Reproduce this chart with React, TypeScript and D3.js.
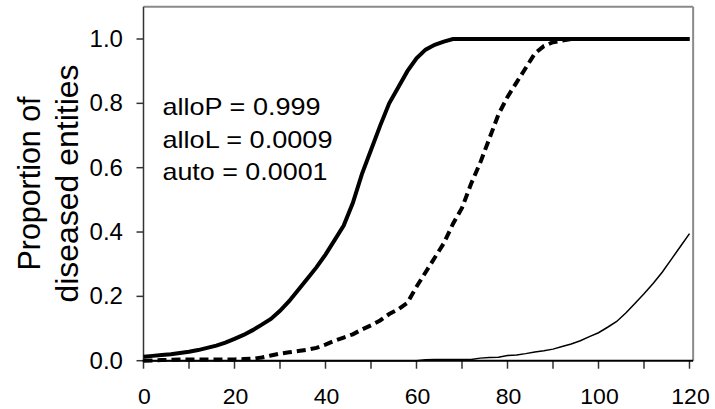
import React from "react";
import * as d3 from "d3";

const days = [0, 2, 4, 6, 8, 10, 12, 14, 16, 18, 20, 22, 24, 26, 28, 30, 32, 34, 36, 38, 40, 42, 44, 46, 48, 50, 52, 54, 56, 58, 60, 62, 64, 66, 68, 70, 72, 74, 76, 78, 80, 82, 84, 86, 88, 90, 92, 94, 96, 98, 100, 102, 104, 106, 108, 110, 112, 114, 116, 118, 120];

const alloPSeries = [0.012, 0.015, 0.018, 0.02, 0.024, 0.028, 0.033, 0.04, 0.047, 0.056, 0.068, 0.08, 0.095, 0.112, 0.13, 0.155, 0.185, 0.22, 0.255, 0.29, 0.33, 0.375, 0.42, 0.49, 0.58, 0.655, 0.73, 0.8, 0.85, 0.9, 0.94, 0.967, 0.982, 0.992, 1, 1, 1, 1, 1, 1, 1, 1, 1, 1, 1, 1, 1, 1, 1, 1, 1, 1, 1, 1, 1, 1, 1, 1, 1, 1, 1];

const alloLSeries = [0, 0.001, 0.002, 0.003, 0.004, 0.004, 0.004, 0.004, 0.004, 0.004, 0.004, 0.005, 0.006, 0.01, 0.016, 0.022, 0.026, 0.03, 0.034, 0.04, 0.05, 0.062, 0.072, 0.082, 0.097, 0.11, 0.125, 0.145, 0.16, 0.18, 0.23, 0.275, 0.32, 0.365, 0.425, 0.475, 0.55, 0.615, 0.69, 0.765, 0.82, 0.865, 0.91, 0.955, 0.978, 0.99, 0.995, 1, 1, 1, 1, 1, 1, 1, 1, 1, 1, 1, 1, 1, 1];

const autoSeries = [0, 0, 0, 0, 0, 0, 0, 0, 0, 0, 0, 0, 0, 0, 0, 0, 0, 0, 0, 0, 0, 0, 0, 0, 0, 0, 0, 0, 0, 0, 0, 0.003, 0.004, 0.004, 0.004, 0.004, 0.004, 0.008, 0.01, 0.011, 0.016, 0.018, 0.022, 0.027, 0.031, 0.036, 0.044, 0.052, 0.062, 0.075, 0.087, 0.104, 0.122, 0.148, 0.178, 0.208, 0.24, 0.275, 0.315, 0.355, 0.395];

const xTickLabels = [0, 20, 40, 60, 80, 100, 120];
const xMinorTicks = [0, 10, 20, 30, 40, 50, 60, 70, 80, 90, 100, 110, 120];
const yTickLabels = [0, 0.2, 0.4, 0.6, 0.8, 1.0];
const legendLines = ["alloP = 0.999", "alloL = 0.0009", "auto = 0.0001"];
const yTitleLines = ["Proportion of", "diseased entities"];

const W = 715;
const H = 409;
const FONT = "'Liberation Sans', Arial, sans-serif";
const legendWidths = [158, 170, 165];

export default function App() {
  const x = d3.scaleLinear().domain([0, 120]).range([143.5, 689.5]);
  const y = d3.scaleLinear().domain([0, 1]).range([360.7, 39]);
  const xRight = x(120.8);
  const yTop = y(1.1);
  const yBottom = y(0);
  const xLeft = x(0);

  const line = (vals: number[]) =>
    d3
      .line<number>()
      .x((_, i) => x(days[i]))
      .y((v) => y(v))(vals) || "";

  return (
    <svg
      width={W}
      height={H}
      style={{ position: "absolute", left: 0, top: 0, background: "#fff" }}
      fontFamily={FONT}
    >
      <rect x={0} y={0} width={W} height={H} fill="#fff" />
      {/* frame top & right */}
      <line x1={xLeft} x2={xRight} y1={yTop} y2={yTop} stroke="#8a8a8a" strokeWidth={2} />
      <line x1={xRight} x2={xRight} y1={yTop} y2={yBottom} stroke="#8a8a8a" strokeWidth={2} />
      {/* y axis */}
      <line x1={xLeft} x2={xLeft} y1={yTop} y2={yBottom} stroke="#333" strokeWidth={1.5} />
      {yTickLabels.map((t) => (
        <g key={"y" + t}>
          <line x1={xLeft - 7} x2={xLeft} y1={y(t)} y2={y(t)} stroke="#333" strokeWidth={1.5} />
          <text
            x={123 - 33.4}
            y={y(t) + 8}
            fontSize={23}
            textLength={33.4}
            lengthAdjust="spacingAndGlyphs"
            fill="#000"
          >
            {d3.format(".1f")(t)}
          </text>
        </g>
      ))}
      {/* x ticks */}
      {xMinorTicks.map((t) => (
        <line key={"xm" + t} x1={x(t)} x2={x(t)} y1={yBottom} y2={yBottom + 8} stroke="#333" strokeWidth={1.5} />
      ))}
      {xTickLabels.map((t) => {
        const w = String(t).length * 12.8;
        return (
          <text
            key={"xl" + t}
            x={x(t) + 1 - w / 2}
            y={403.5}
            fontSize={22}
            textLength={w}
            lengthAdjust="spacingAndGlyphs"
            fill="#000"
          >
            {t}
          </text>
        );
      })}
      {/* series */}
      <path d={line(autoSeries)} fill="none" stroke="#000" strokeWidth={1.5} />
      <path d={line(alloLSeries)} fill="none" stroke="#000" strokeWidth={4} strokeDasharray="9,5" />
      <path d={line(alloPSeries)} fill="none" stroke="#000" strokeWidth={4} />
      {/* x axis line */}
      <line x1={xLeft - 1} x2={xRight} y1={yBottom} y2={yBottom} stroke="#000" strokeWidth={2} />
      {/* legend text */}
      {legendLines.map((s, i) => (
        <text
          key={s}
          x={162.5}
          y={115 + i * 32.5}
          fontSize={24}
          textLength={legendWidths[i]}
          lengthAdjust="spacingAndGlyphs"
          fill="#000"
        >
          {s}
        </text>
      ))}
      {/* y title */}
      <text
        transform="translate(40,183.5) rotate(-90)"
        x={-87}
        fontSize={31}
        textLength={174}
        lengthAdjust="spacingAndGlyphs"
        fill="#000"
      >
        {yTitleLines[0]}
      </text>
      <text
        transform="translate(78,183.5) rotate(-90)"
        x={-119}
        fontSize={31}
        textLength={238}
        lengthAdjust="spacingAndGlyphs"
        fill="#000"
      >
        {yTitleLines[1]}
      </text>
    </svg>
  );
}
